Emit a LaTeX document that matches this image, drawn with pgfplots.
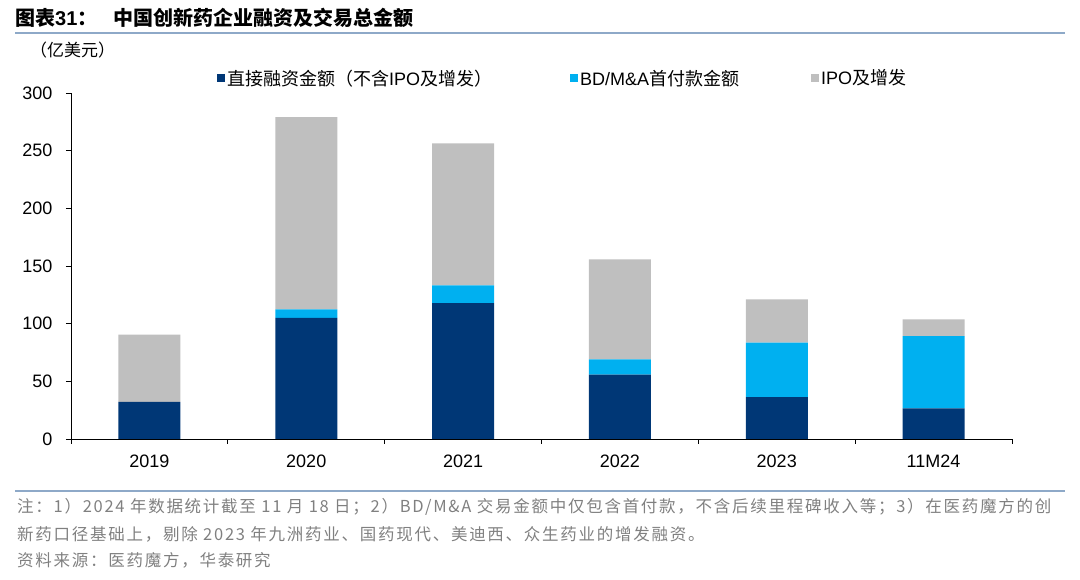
\documentclass[border=0pt]{standalone}
\usepackage{fontspec}
\setmainfont{Liberation Sans}
\newfontfamily\cjk{Noto Sans CJK SC}
\newfontfamily\cjknote[LetterSpace=10.5]{Noto Sans CJK SC}
\usepackage{pgfplots}
\usepackage{pgfplotstable}
\pgfplotsset{compat=1.18}
\definecolor{navy}{HTML}{003776}
\definecolor{cyanb}{HTML}{00B0F0}
\definecolor{greyb}{HTML}{BFBFBF}
\definecolor{rulec}{HTML}{8EA9C8}
\definecolor{notec}{HTML}{808080}

% direct = 直接融资, bd = BD/M&A 首付款, ipo = IPO及增发 (亿美元)
\pgfplotstableread{
x direct bd ipo
0 32.1 0 58.4
1 105.0 7.3 166.7
2 117.7 15.6 123.1
3 55.8 13.3 86.7
4 36.4 47.2 37.5
5 26.6 62.7 14.5
}\fund

\begin{document}
\begin{tikzpicture}[x=1pt,y=1pt]
\path[use as bounding box] (0,0) rectangle (1080,580);

% title and rules
\node[anchor=west, inner sep=0pt, font=\fontsize{20}{24}\selectfont\bfseries]
  at (15,562) {{\cjk 图表}31{\cjk ：\hspace{0.8em}中国创新药企业融资及交易总金额}};
\draw[rulec, line width=1.5pt] (15,547) -- (1065,547);
\draw[rulec, line width=1.2pt] (15,89) -- (1065,89);

% unit label
\node[anchor=west, inner sep=0pt, font=\cjk\fontsize{17}{20}\selectfont] at (30,530) {（亿美元）};

% notes
\begin{scope}[every node/.style={anchor=west, inner sep=0pt, text=notec,
    font=\cjknote\fontsize{16.5}{19}\selectfont}]
\node at (17,73) {注：1）2024 年数据统计截至 11 月 18 日；2）BD/M\&A 交易金额中仅包含首付款，不含后续里程碑收入等；3）在医药魔方的创};
\node at (17,46) {新药口径基础上，剔除 2023 年九洲药业、国药现代、美迪西、众生药业的增发融资。};
\node at (17,20) {资料来源：医药魔方，华泰研究};
\end{scope}

\begin{axis}[
    at={(71pt,141pt)}, anchor=south west,
    scale only axis,
    width=941pt, height=346pt,
    ybar stacked,
    bar width=62pt,
    xmin=-0.5, xmax=5.5,
    ymin=0, ymax=300,
    axis x line*=bottom,
    axis y line*=left,
    axis line style={black, line width=0.9pt},
    xtick={0,...,5},
    xticklabels={2019,2020,2021,2022,2023,11M24},
    minor xtick={-0.5,0.5,...,5.5},
    ytick={0,50,...,300},
    tick align=outside,
    major tick length=5pt,
    minor tick length=5pt,
    major x tick style={draw=none},
    tick style={black, line width=0.9pt},
    /pgf/number format/assume math mode=true,
    ticklabel style={font=\fontsize{18}{21}\selectfont},
    xticklabel style={yshift=-7pt},
    yticklabel style={xshift=-10pt},
    legend style={at={(axis description cs:0.155,1.043)}, anchor=west,
        draw=none, fill=none, inner sep=0pt,
        font=\fontsize{18}{21}\selectfont,
        legend columns=3,
        /tikz/column 2/.style={column sep=76pt},
        /tikz/column 4/.style={column sep=70pt}},
    legend image code/.code={\fill[#1] (0pt,-4pt) rectangle (8pt,4pt);},
]
\addplot[fill=navy, draw=none] table[x=x, y=direct] {\fund};
\addlegendentry{{\cjk 直接融资金额（不含}IPO{\cjk 及增发）}}
\addplot[fill=cyanb, draw=none] table[x=x, y=bd] {\fund};
\addlegendentry{BD/M\&A{\cjk 首付款金额}}
\addplot[fill=greyb, draw=none] table[x=x, y=ipo] {\fund};
\addlegendentry{IPO{\cjk 及增发}}
\end{axis}
\end{tikzpicture}
\end{document}
